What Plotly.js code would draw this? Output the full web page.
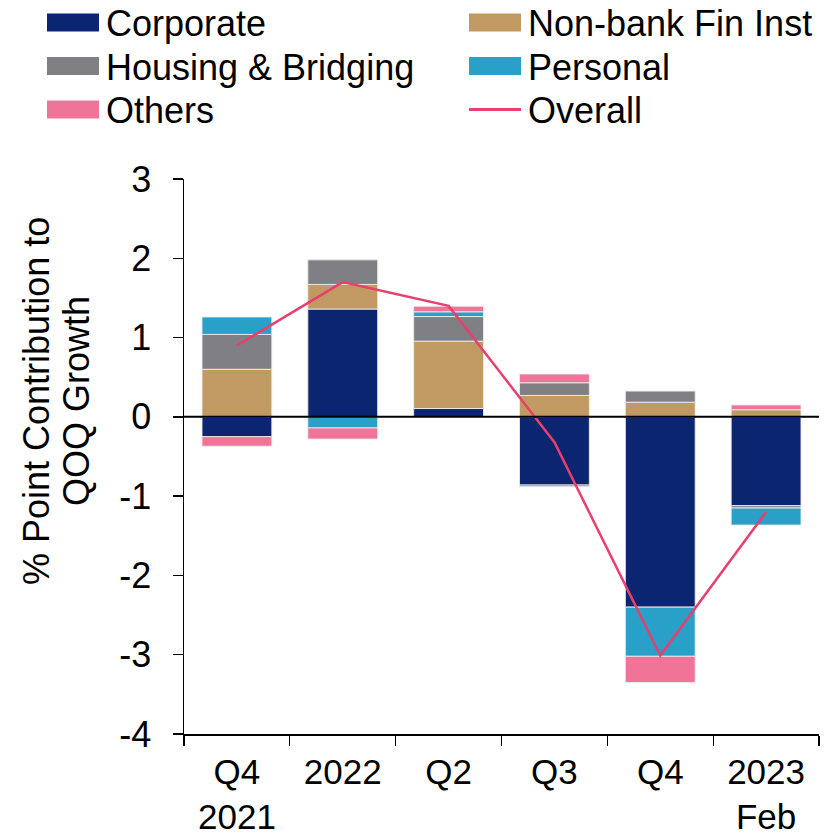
<!DOCTYPE html>
<html>
<head>
<meta charset="utf-8">
<script src="https://cdn.plot.ly/plotly-3.0.1.min.js"></script>
<style>html,body{margin:0;padding:0;background:#fff;}#chart{width:840px;height:838px;}</style>
</head>
<body>
<div id="chart"></div>
<script>
// ---- data ----
var categories = ["Q4<br>2021", "2022", "Q2", "Q3", "Q4", "2023<br>Feb"];
var corporate  = [-0.25, 1.36, 0.105, -0.86, -2.40, -1.12];
var nonbank    = [0.60, 0.31, 0.85, 0.27, 0.185, 0.09];
var housing    = [0.44, 0.31, 0.31, 0.16, 0.14, -0.03];
var personal   = [0.22, -0.14, 0.06, -0.02, -0.62, -0.215];
var others     = [-0.12, -0.14, 0.07, 0.11, -0.33, 0.06];
var overall    = [0.90, 1.70, 1.40, -0.32, -3.01, -1.20];
var seriesNames = ["Corporate", "Non-bank Fin Inst", "Housing & Bridging", "Personal", "Others", "Overall"];
var yTicks = [3, 2, 1, 0, -1, -2, -3, -4];
var yTickText = ["3", "2", "1", "0", "-1", "-2", "-3", "-4"];

// ---- styles ----
var colors = {
  corporate: "#0c2570",
  nonbank: "#c19a63",
  housing: "#808084",
  personal: "#29a0c7",
  others: "#ef7497",
  overall: "#e6406e"
};
var FONT = "Liberation Sans, Arial, sans-serif";
var W = 840, H = 838;
var M = {l: 184, r: 21, t: 179, b: 104};
var PW = W - M.l - M.r, PH = H - M.t - M.b;
function px(x) { return (x - M.l) / PW; }
function py(y) { return (H - M.b - y) / PH; }

function barTrace(name, vals, color) {
  return {
    type: "bar", name: name, x: categories, y: vals,
    marker: {color: color, line: {color: "rgba(235,235,240,0.9)", width: 1}},
    width: 0.66, hoverinfo: "name+y"
  };
}

var data = [
  barTrace(seriesNames[0], corporate, colors.corporate),
  barTrace(seriesNames[1], nonbank, colors.nonbank),
  barTrace(seriesNames[2], housing, colors.housing),
  barTrace(seriesNames[3], personal, colors.personal),
  barTrace(seriesNames[4], others, colors.others),
  {type: "scatter", mode: "lines", name: seriesNames[5], x: categories, y: overall,
   line: {color: colors.overall, width: 2.5}}
];

// ---- custom legend (2 columns x 3 rows) ----
var legendItems = [
  {name: seriesNames[0], color: colors.corporate, col: 0, row: 0, kind: "box"},
  {name: seriesNames[1], color: colors.nonbank, col: 1, row: 0, kind: "box"},
  {name: seriesNames[2], color: colors.housing, col: 0, row: 1, kind: "box"},
  {name: seriesNames[3], color: colors.personal, col: 1, row: 1, kind: "box"},
  {name: seriesNames[4], color: colors.others, col: 0, row: 2, kind: "box"},
  {name: seriesNames[5], color: colors.overall, col: 1, row: 2, kind: "line"}
];
var colX = [47, 469];
var rowY = [22.5, 66, 109.5];
var shapes = [], annotations = [];
legendItems.forEach(function (it) {
  var x0 = colX[it.col], x1 = x0 + 52, yc = rowY[it.row];
  if (it.kind === "box") {
    shapes.push({type: "rect", xref: "paper", yref: "paper",
      x0: px(x0), x1: px(x1), y0: py(yc - 9), y1: py(yc + 9),
      fillcolor: it.color, line: {width: 0}});
  } else {
    shapes.push({type: "line", xref: "paper", yref: "paper",
      x0: px(x0), x1: px(x1), y0: py(yc), y1: py(yc),
      line: {color: it.color, width: 3}});
  }
  annotations.push({xref: "paper", yref: "paper", x: px(x1 + 5), y: py(yc + 1),
    xanchor: "left", yanchor: "middle", showarrow: false, text: it.name,
    font: {family: FONT, size: 36, color: "#000"}});
});

// zero line drawn above the bars
shapes.push({type: "line", xref: "paper", yref: "y", x0: 0, x1: 1, y0: 0, y1: 0,
  layer: "above", line: {color: "#000", width: 2}});

// y axis title (two centred lines)
annotations.push({xref: "paper", yref: "paper", x: px(36), y: py(401),
  xanchor: "center", yanchor: "middle", showarrow: false, textangle: -90,
  text: "% Point Contribution to", font: {family: FONT, size: 36, color: "#000"}});
annotations.push({xref: "paper", yref: "paper", x: px(76), y: py(401),
  xanchor: "center", yanchor: "middle", showarrow: false, textangle: -90,
  text: "QOQ Growth", font: {family: FONT, size: 36, color: "#000"}});

var layout = {
  width: W, height: H,
  margin: M,
  paper_bgcolor: "#fff", plot_bgcolor: "#fff",
  barmode: "relative",
  showlegend: false,
  font: {family: FONT, color: "#000"},
  xaxis: {
    type: "category",
    tickson: "boundaries",
    ticks: "outside", ticklen: 10, tickwidth: 1.3, tickcolor: "#000",
    showline: true, linecolor: "#000", linewidth: 1.5,
    showgrid: false, zeroline: false,
    tickfont: {family: FONT, size: 35, color: "#000"},
    ticklabelstandoff: 6
  },
  yaxis: {
    range: [-4, 3],
    tickmode: "array", tickvals: yTicks, ticktext: yTickText,
    ticks: "outside", ticklen: 10, tickwidth: 1.3, tickcolor: "#000",
    showline: true, linecolor: "#000", linewidth: 1.5,
    showgrid: false,
    zeroline: false,
    tickfont: {family: FONT, size: 36, color: "#000"},
    ticklabelstandoff: 14
  },
  shapes: shapes,
  annotations: annotations
};

Plotly.newPlot("chart", data, layout, {displayModeBar: false, staticPlot: true});
</script>
</body>
</html>
